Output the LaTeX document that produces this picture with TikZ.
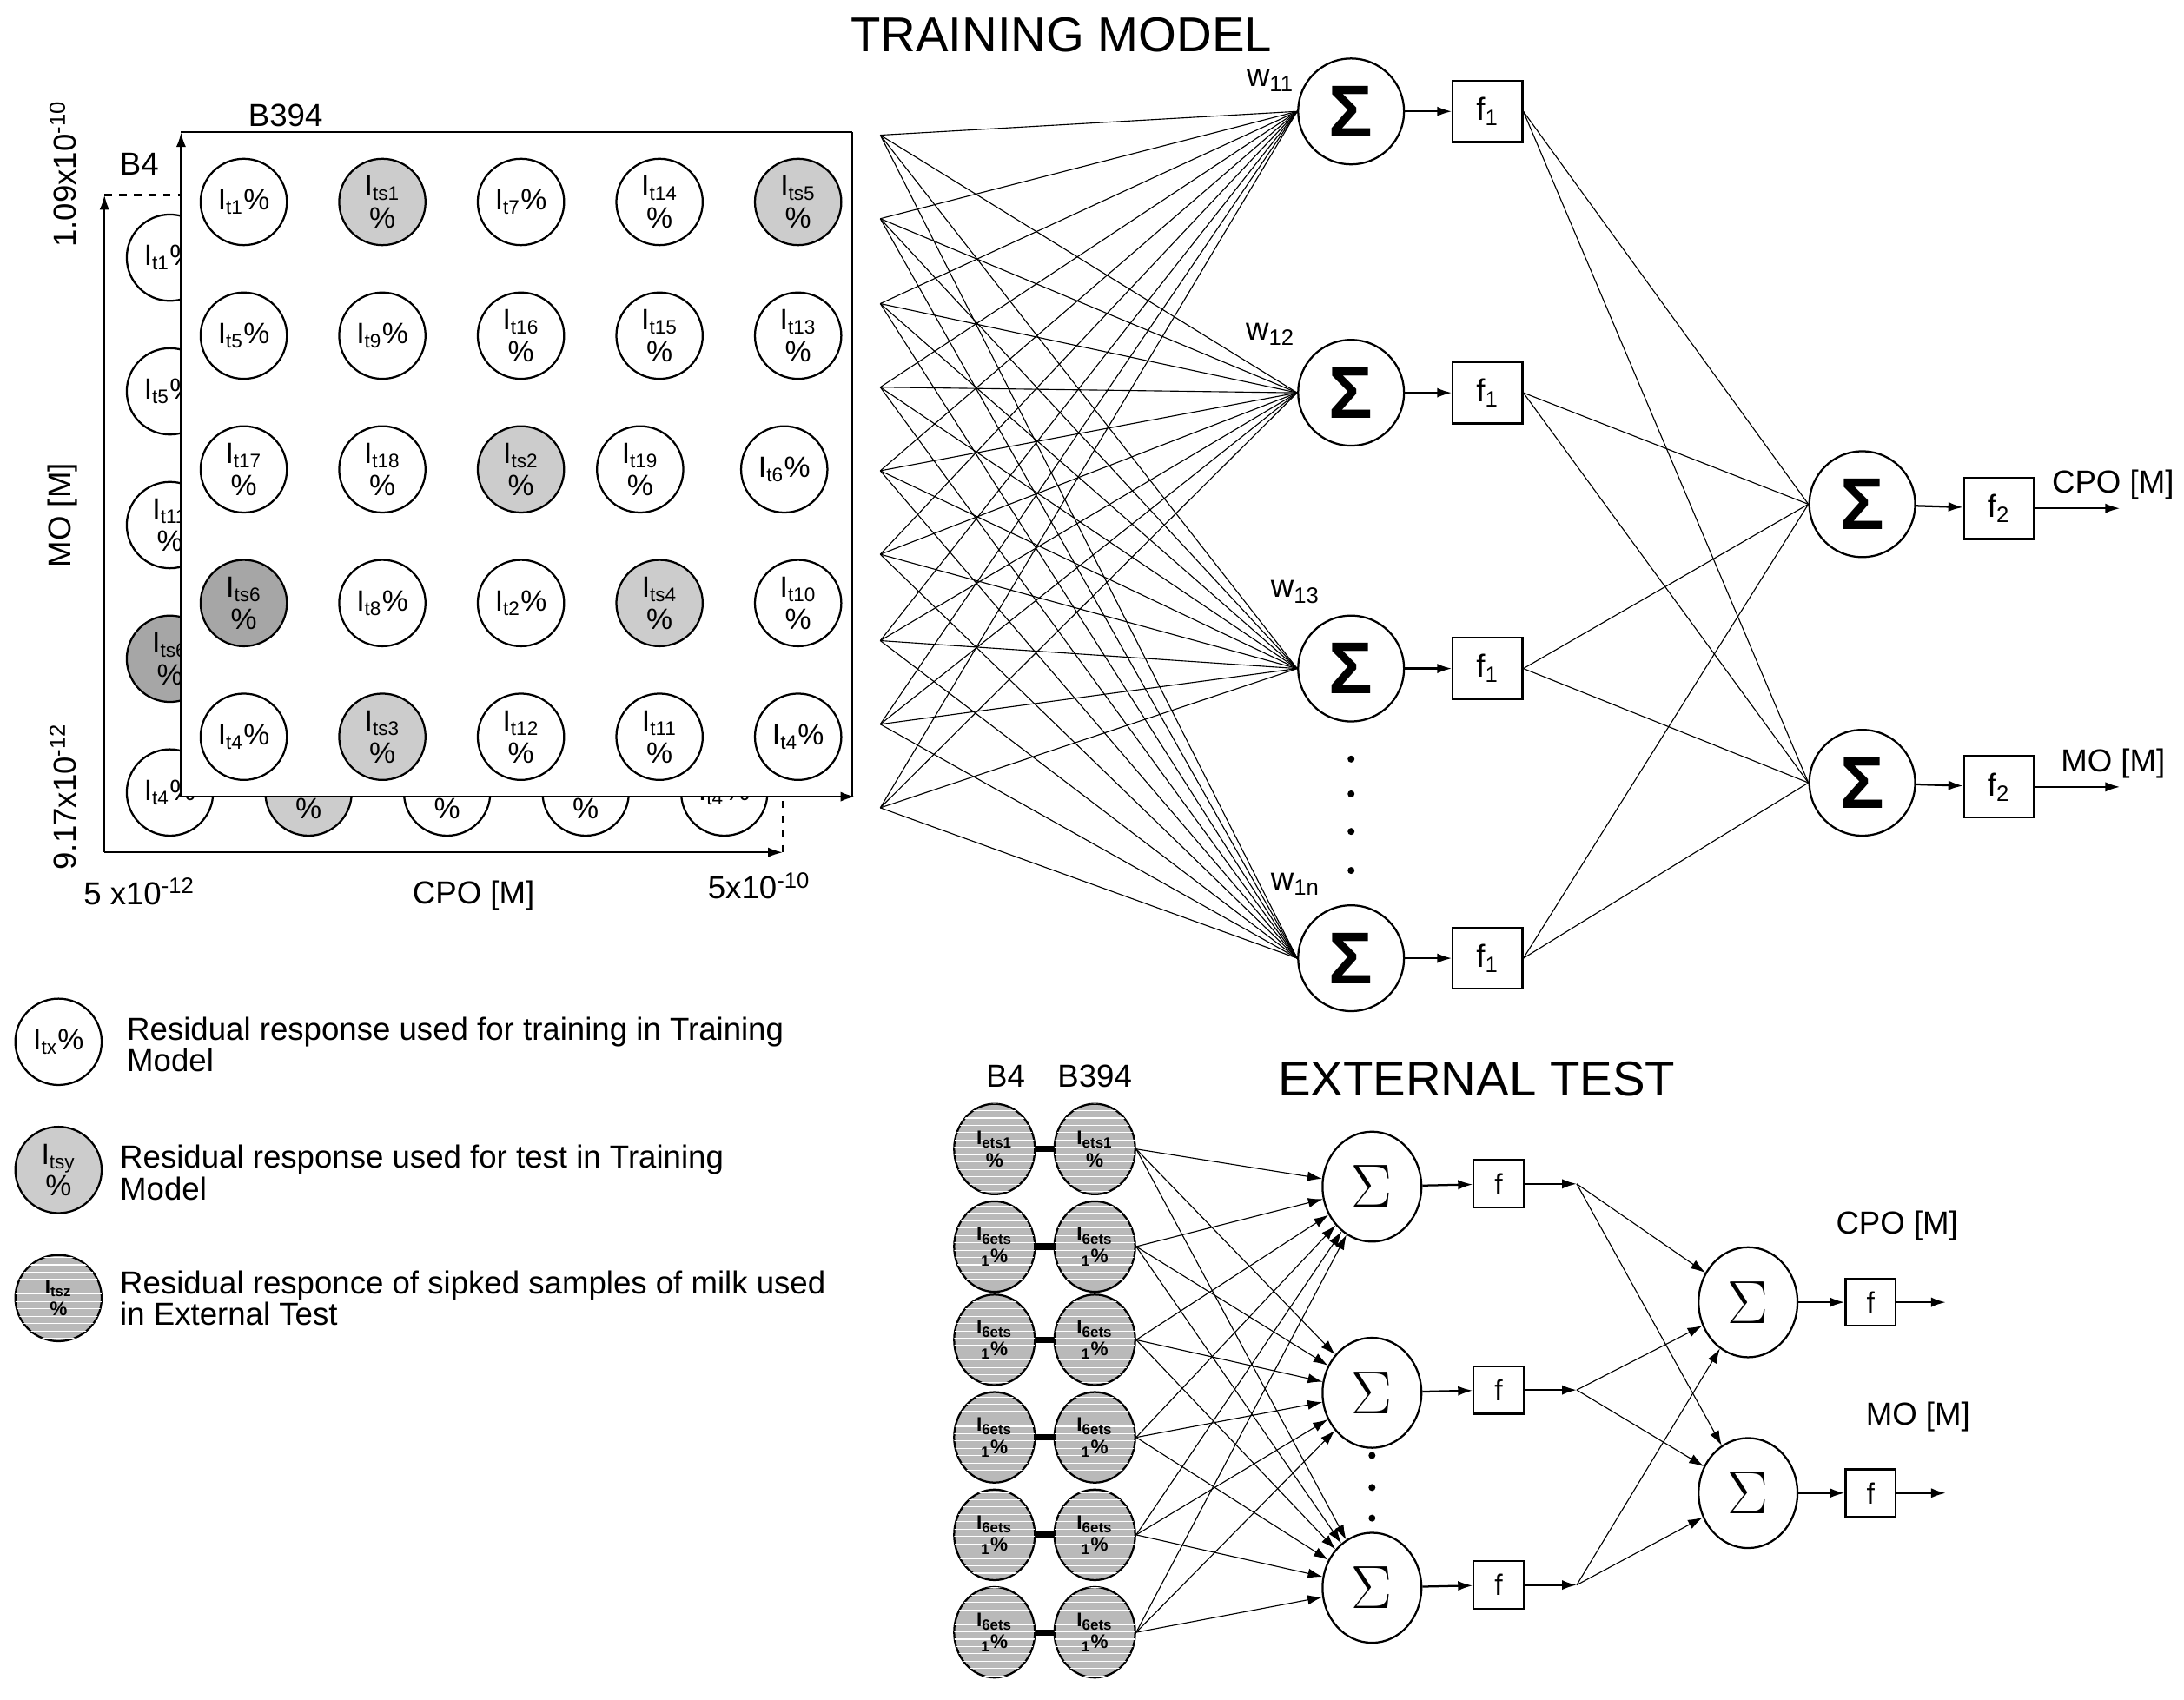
\documentclass[tikz,border=0pt]{standalone}
\usepackage{fontspec}
\setmainfont{Liberation Sans}
\usetikzlibrary{positioning}
\usetikzlibrary{arrows.meta}
\usetikzlibrary{patterns}
\usetikzlibrary{shapes.geometric}

\begin{document}
\begin{tikzpicture}[x=0.02cm, y=-0.02cm,
    cell/.style={circle, draw, thick, minimum size=1.24cm, inner sep=0pt, align=center, font=\fontsize{12}{13}\selectfont, fill=white},
    lt/.style={fill=gray!40},
    dk/.style={fill=gray!70},
    hatch/.style={ellipse, draw, thick, minimum width=1.16cm, minimum height=1.3cm, inner sep=0pt, align=center,
      font=\bfseries\fontsize{8}{9}\selectfont, fill=gray!55, postaction={pattern=horizontal lines, pattern color=white}},
    sum/.style={circle, draw, thick, minimum size=1.52cm, inner sep=0pt, font=\bfseries\fontsize{30}{30}\selectfont},
    esum/.style={ellipse, draw, thick, minimum width=1.42cm, minimum height=1.58cm, inner sep=0pt, font=\fontsize{24}{24}\selectfont},
    fbox/.style={draw, thick, minimum width=1.0cm, minimum height=0.88cm, inner sep=0pt, font=\fontsize{13}{13}\selectfont},
    efbox/.style={draw, thick, minimum width=0.72cm, minimum height=0.68cm, inner sep=0pt, font=\fontsize{12}{12}\selectfont},
    arr/.style={-{Latex[length=6pt, width=4pt]}, thick},
    lbl/.style={font=\fontsize{13}{13}\selectfont}
  ]
  \useasboundingbox (0,0) rectangle (1568,1220);

  \node[font=\fontsize{20}{20}\selectfont] (title) at (762,25) {TRAINING MODEL};

  % B4 plane (behind)
  \draw[arr] (75,612) -- (75,140);
  \draw[arr] (75,612) -- (562,612);
  \draw[thick, dashed] (75,140) -- (130,140);
  \draw[thick, dashed] (562,575) -- (562,612);
  \foreach \px/\py/\txt/\sty [count=\k] in {
      0/0/{I\textsubscript{t1}\%}/, 1/0/{I\textsubscript{ts1}\\\%}/lt, 2/0/{I\textsubscript{t7}\%}/, 3/0/{I\textsubscript{t14}\\\%}/, 4/0/{I\textsubscript{ts5}\\\%}/lt,
      0/1/{I\textsubscript{t5}\%}/, 1/1/{I\textsubscript{t9}\%}/, 2/1/{I\textsubscript{t16}\\\%}/, 3/1/{I\textsubscript{t15}\\\%}/, 4/1/{I\textsubscript{t13}\\\%}/,
      0/2/{I\textsubscript{t11}\\\%}/, 1/2/{I\textsubscript{t18}\\\%}/, 2/2/{I\textsubscript{ts2}\\\%}/lt, 3/2/{I\textsubscript{t19}\\\%}/, 4/2/{I\textsubscript{t6}\%}/,
      0/3/{I\textsubscript{ts6}\\\%}/dk, 1/3/{I\textsubscript{t8}\%}/, 2/3/{I\textsubscript{t2}\%}/, 3/3/{I\textsubscript{ts4}\\\%}/lt, 4/3/{I\textsubscript{t10}\\\%}/,
      0/4/{I\textsubscript{t4}\%}/, 1/4/{I\textsubscript{ts3}\\\%}/lt, 2/4/{I\textsubscript{t12}\\\%}/, 3/4/{I\textsubscript{t11}\\\%}/, 4/4/{I\textsubscript{t4}\%}/}
    \node[cell, \sty] (b\k) at (122+99.5*\px, 185+96*\py) {\txt};
  \node[font=\fontsize{13}{13}\selectfont] (lb4) at (100,118) {B4};

  % B394 plane (front)
  \fill[white] (130,95) rectangle (612,572);
  \draw[thick] (612,95) -- (130,95);
  \draw[thick] (612,95) -- (612,572);
  \draw[arr] (130,572) -- (130,95);
  \draw[arr] (130,572) -- (614,572);
  \foreach \px/\py/\txt/\sty [count=\k] in {
      0/0/{I\textsubscript{t1}\%}/, 1/0/{I\textsubscript{ts1}\\\%}/lt, 2/0/{I\textsubscript{t7}\%}/, 3/0/{I\textsubscript{t14}\\\%}/, 4/0/{I\textsubscript{ts5}\\\%}/lt,
      0/1/{I\textsubscript{t5}\%}/, 1/1/{I\textsubscript{t9}\%}/, 2/1/{I\textsubscript{t16}\\\%}/, 3/1/{I\textsubscript{t15}\\\%}/, 4/1/{I\textsubscript{t13}\\\%}/,
      0/2/{I\textsubscript{t17}\\\%}/, 1/2/{I\textsubscript{t18}\\\%}/, 2/2/{I\textsubscript{ts2}\\\%}/lt, 2.86/2/{I\textsubscript{t19}\\\%}/, 3.9/2/{I\textsubscript{t6}\%}/,
      0/3/{I\textsubscript{ts6}\\\%}/dk, 1/3/{I\textsubscript{t8}\%}/, 2/3/{I\textsubscript{t2}\%}/, 3/3/{I\textsubscript{ts4}\\\%}/lt, 4/3/{I\textsubscript{t10}\\\%}/,
      0/4/{I\textsubscript{t4}\%}/, 1/4/{I\textsubscript{ts3}\\\%}/lt, 2/4/{I\textsubscript{t12}\\\%}/, 3/4/{I\textsubscript{t11}\\\%}/, 4/4/{I\textsubscript{t4}\%}/}
    \node[cell, \sty] (g\k) at (175+99.5*\px, 145+96*\py) {\txt};
  \node[font=\fontsize{13}{13}\selectfont] (lb394) at (205,83) {B394};

  \node[lbl, rotate=90] (ytop) at (45,125) {1.09x10\textsuperscript{-10}};
  \node[lbl, rotate=90] (ymid) at (45,370) {MO [M]};
  \node[lbl, rotate=90] (ybot) at (45,572) {9.17x10\textsuperscript{-12}};
  \node[lbl] (xlft) at (100,640) {5 x10\textsuperscript{-12}};
  \node[lbl] (xmid) at (340,643) {CPO [M]};
  \node[lbl] (xrgt) at (545,636) {5x10\textsuperscript{-10}};

  % training network
  \foreach \y [count=\i] in {97,157,218,278,338,398,460,520,580}
    \coordinate (in\i) at (632,\y);
  \foreach \y [count=\j] in {80,282,480,688} {
    \node[sum] (s\j) at (970,\y) {Σ};
    \node[fbox] (f\j) at (1068,\y) {f\textsubscript{1}};
    \draw[arr] (s\j) -- (f\j);
  }
  \foreach \i in {1,...,9}
    \foreach \j in {1,...,4}
      \draw (in\i) -- (s\j.west);
  \node[lbl] (w1) at (912,58) {w\textsubscript{11}};
  \node[lbl] (w2) at (912,240) {w\textsubscript{12}};
  \node[lbl] (w3) at (930,425) {w\textsubscript{13}};
  \node[lbl] (w4) at (930,635) {w\textsubscript{1n}};
  \foreach \y [count=\k] in {545,570,597,625}
    \fill (970,\y) circle (2.5);
  \foreach \y/\txt [count=\k] in {362/CPO [M], 562/MO [M]} {
    \node[sum] (o\k) at (1337,\y) {Σ};
    \node[fbox] (h\k) at (1435,\y+3) {f\textsubscript{2}};
    \coordinate (out\k) at (1522,\y+3);
    \draw[arr] (o\k) -- (h\k);
    \draw[arr] (h\k) -- (out\k);
    \node[lbl, anchor=south] (ol\k) at ([xshift=-0.1cm]out\k) {\txt};
  }
  \foreach \j in {1,...,4}
    \foreach \k in {1,2}
      \draw (f\j.east) -- (o\k.west);

  % legend
  \node[cell] (k1) at (42,748) {I\textsubscript{tx}\%};
  \node[cell, lt] (k2) at (42,840) {I\textsubscript{tsy}\\\%};
  \node[hatch, minimum width=1.24cm, minimum height=1.24cm] (k3) at (42,932) {I\textsubscript{tsz}\\\%};
  \node[lbl, anchor=west, align=left] (kt1) at (85,750) {Residual response used for training in Training\\Model};
  \node[lbl, anchor=west, align=left] (kt2) at (80,842) {Residual response used for test in Training\\Model};
  \node[lbl, anchor=west, align=left] (kt3) at (80,932) {Residual responce of sipked samples of milk used\\in External Test};

  % external test
  \node[font=\fontsize{20}{20}\selectfont] (etitle) at (1060,775) {EXTERNAL TEST};
  \node[lbl] (eb4) at (722,773) {B4};
  \node[lbl] (eb394) at (786,773) {B394};
  \foreach \y/\txt [count=\i] in {825/{I\textsubscript{ets1}\\\%}, 895/{I\textsubscript{6ets}\\\textsubscript{1}\%}, 962/{I\textsubscript{6ets}\\\textsubscript{1}\%},
      1032/{I\textsubscript{6ets}\\\textsubscript{1}\%}, 1102/{I\textsubscript{6ets}\\\textsubscript{1}\%}, 1172/{I\textsubscript{6ets}\\\textsubscript{1}\%}} {
    \node[hatch] (ea\i) at (714,\y) {\txt};
    \node[hatch] (eb\i) at (786,\y) {\txt};
    \draw[line width=2.5pt] (ea\i) -- (eb\i);
  }
  \foreach \y [count=\j] in {852,1000,1140} {
    \node[esum] (e\j) at (985,\y) {$\Sigma$};
    \node[efbox] (ef\j) at (1076,\y-2) {f};
    \coordinate (ep\j) at (1132,\y-2);
    \draw[arr] (e\j) -- (ef\j);
    \draw[arr] (ef\j) -- (ep\j);
  }
  \foreach \i in {1,...,6}
    \foreach \j in {1,2,3}
      \draw[arr, thin] (eb\i.east) -- (e\j);
  \foreach \y [count=\k] in {1045,1068,1090}
    \fill (985,\y) circle (2.5);
  \foreach \y/\txt/\dx [count=\k] in {935/CPO [M]/1362, 1072/MO [M]/1377} {
    \node[esum] (eo\k) at (1255,\y) {$\Sigma$};
    \node[efbox] (eg\k) at (1343,\y) {f};
    \coordinate (eout\k) at (1397,\y);
    \draw[arr] (eo\k) -- (eg\k);
    \draw[arr] (eg\k) -- (eout\k);
    \node[lbl] (eol\k) at (\dx,\y-55) {\txt};
  }
  \foreach \j in {1,2,3}
    \foreach \k in {1,2}
      \draw[arr, thin] (ep\j) -- (eo\k);
\end{tikzpicture}
\end{document}
